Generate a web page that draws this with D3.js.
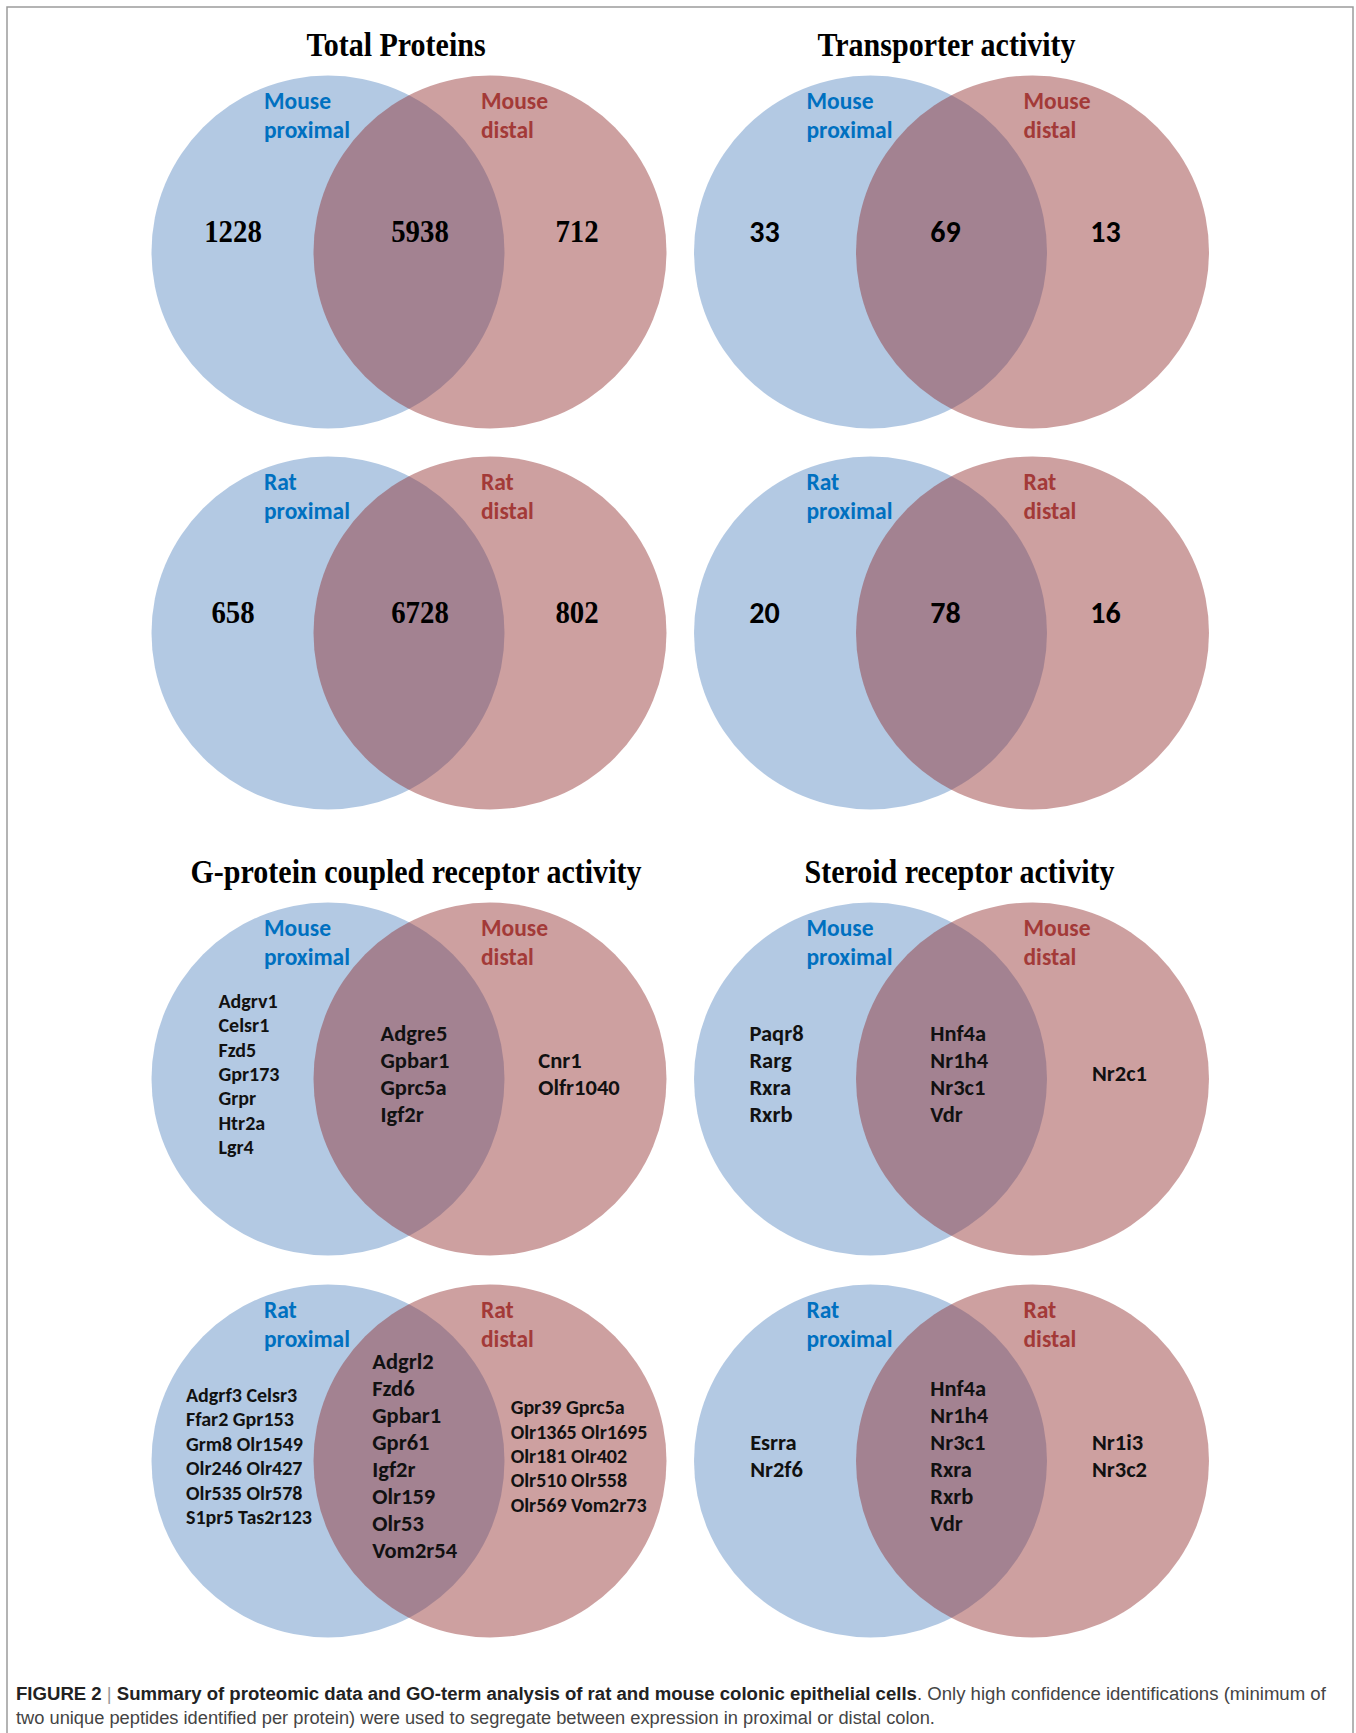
<!DOCTYPE html>
<html>
<head>
<meta charset="utf-8">
<script src="https://cdn.jsdelivr.net/npm/d3@7"></script>
<style>
body { margin: 0; background: #fff; }
svg { display: block; }
</style>
</head>
<body>
<svg id="fig"></svg>
<script>
// titles / set names
var titles = ["Total Proteins", "Transporter activity", "G-protein coupled receptor activity", "Steroid receptor activity"];
var species = ["Mouse", "Rat"];
var sites = ["proximal", "distal"];

// counts: [proximal only, both, distal only]
var totalMouse = [1228, 5938, 712];
var totalRat = [658, 6728, 802];
var transMouse = [33, 69, 13];
var transRat = [20, 78, 16];

// GPCR genes
var gpcrMouseProx = ["Adgrv1", "Celsr1", "Fzd5", "Gpr173", "Grpr", "Htr2a", "Lgr4"];
var gpcrMouseBoth = ["Adgre5", "Gpbar1", "Gprc5a", "Igf2r"];
var gpcrMouseDist = ["Cnr1", "Olfr1040"];
var gpcrRatProx = ["Adgrf3 Celsr3", "Ffar2 Gpr153", "Grm8 Olr1549", "Olr246 Olr427", "Olr535 Olr578", "S1pr5 Tas2r123"];
var gpcrRatBoth = ["Adgrl2", "Fzd6", "Gpbar1", "Gpr61", "Igf2r", "Olr159", "Olr53", "Vom2r54"];
var gpcrRatDist = ["Gpr39 Gprc5a", "Olr1365 Olr1695", "Olr181 Olr402", "Olr510 Olr558", "Olr569 Vom2r73"];

// steroid receptor genes
var sterMouseProx = ["Paqr8", "Rarg", "Rxra", "Rxrb"];
var sterMouseBoth = ["Hnf4a", "Nr1h4", "Nr3c1", "Vdr"];
var sterMouseDist = ["Nr2c1"];
var sterRatProx = ["Esrra", "Nr2f6"];
var sterRatBoth = ["Hnf4a", "Nr1h4", "Nr3c1", "Rxra", "Rxrb", "Vdr"];
var sterRatDist = ["Nr1i3", "Nr3c2"];

var captionLines = [
    [["FIGURE 2", "b"], [" | ", "bar"], ["Summary of proteomic data and GO-term analysis of rat and mouse colonic epithelial cells", "b"], [". Only high confidence identifications (minimum of", "r"]],
    [["two unique peptides identified per protein) were used to segregate between expression in proximal or distal colon.", "r"]]
];

var W = 1356, H = 1733;
var R = 176.5, SEP = 162;

var panels = [
    {col: 0, row: 0, title: titles[0], titleDx: -13, sp: species[0], nums: totalMouse, serif: true},
    {col: 1, row: 0, title: titles[1], titleDx: -5, sp: species[0], nums: transMouse, serif: false},
    {col: 0, row: 1, sp: species[1], nums: totalRat, serif: true},
    {col: 1, row: 1, sp: species[1], nums: transRat, serif: false},
    {col: 0, row: 2, title: titles[2], titleDx: 7, sp: species[0], genes: [gpcrMouseProx, gpcrMouseBoth, gpcrMouseDist]},
    {col: 1, row: 2, title: titles[3], titleDx: 8, sp: species[0], genes: [sterMouseProx, sterMouseBoth, sterMouseDist]},
    {col: 0, row: 3, sp: species[1], genes: [gpcrRatProx, gpcrRatBoth, gpcrRatDist]},
    {col: 1, row: 3, sp: species[1], genes: [sterRatProx, sterRatBoth, sterRatDist]}
];

var colX = d3.scalePoint().domain([0, 1]).range([409, 951.5]);
var rowY = d3.scaleOrdinal().domain([0, 1, 2, 3]).range([252, 633, 1079, 1461]);
// circle centre offsets inside a panel
var setX = d3.scalePoint().domain(sites).range([-SEP / 2, SEP / 2]);
var setFill = d3.scaleOrdinal().domain(sites).range(["#4f81bd", "#902d2d"]);
var setOpacity = d3.scaleOrdinal().domain(sites).range([0.43, 0.45]);
var labelColor = d3.scaleOrdinal().domain(sites).range(["#0070c0", "#a33a38"]);
var labelX = d3.scaleOrdinal().domain(sites).range([-145, 72]);
// region centres (proximal only, both, distal only), per column
var numX = [d3.scaleOrdinal().domain([0, 1, 2]).range([-176, 11, 168]),
            d3.scaleOrdinal().domain([0, 1, 2]).range([-187, -6, 154])];
var geneX = [d3.scaleOrdinal().domain([0, 1, 2]).range([-160, 6, 170]),
             d3.scaleOrdinal().domain([0, 1, 2]).range([-175, 8, 168])];

var SANS = "Carlito, Lato, 'Open Sans', sans-serif";
var SERIF = "'Liberation Serif', 'Times New Roman', serif";

var svg = d3.select("#fig").attr("width", W).attr("height", H);

svg.append("path")
    .attr("d", "M7," + H + " V7 H1353 V" + H)
    .attr("fill", "none")
    .attr("stroke", "#9c9c9c")
    .attr("stroke-width", 1.5);

panels.forEach(function(p) {
    var g = svg.append("g")
        .attr("transform", "translate(" + colX(p.col) + "," + rowY(p.row) + ")");

    g.selectAll("circle")
        .data(sites)
        .enter()
        .append("circle")
        .attr("cx", function(d) { return setX(d); })
        .attr("cy", 0)
        .attr("r", R)
        .attr("fill", function(d) { return setFill(d); })
        .attr("fill-opacity", function(d) { return setOpacity(d); });

    if (p.title) {
        g.append("text")
            .attr("transform", "translate(" + p.titleDx + "," + (-196) + ") scale(0.91,1)")
            .attr("text-anchor", "middle")
            .attr("font-family", SERIF)
            .attr("font-weight", "bold")
            .attr("font-size", "33px")
            .attr("fill", "#000")
            .text(p.title);
    }

    // set labels
    sites.forEach(function(s) {
        var t = g.append("text")
            .attr("font-family", SANS)
            .attr("font-weight", "bold")
            .attr("font-size", "23.5px")
            .attr("fill", labelColor(s));
        t.append("tspan").attr("x", labelX(s)).attr("y", -143).text(p.sp);
        t.append("tspan").attr("x", labelX(s)).attr("y", -114).text(s);
    });

    if (p.nums) {
        g.selectAll("text.num")
            .data(p.nums)
            .enter()
            .append("text")
            .attr("class", "num")
            .attr("transform", function(d, i) {
                return "translate(" + numX[p.col](i) + ",-10)" + (p.serif ? " scale(0.93,1)" : "");
            })
            .attr("text-anchor", "middle")
            .attr("font-family", p.serif ? SERIF : SANS)
            .attr("font-weight", "bold")
            .attr("font-size", p.serif ? "31px" : "30px")
            .attr("fill", "#000")
            .text(function(d) { return d; });
    }

    if (p.genes) {
        p.genes.forEach(function(list, i) {
            var dense = i !== 1 && list.length > 4;
            var lh = dense ? 24.4 : 27;
            var fs = dense ? 20 : 22.5;
            var y0 = 2 - (list.length - 1) * lh / 2;
            var blk = g.append("g");
            blk.selectAll("text")
                .data(list)
                .enter()
                .append("text")
                .attr("x", 0)
                .attr("y", function(d, j) { return y0 + j * lh; })
                .attr("font-family", SANS)
                .attr("font-weight", "bold")
                .attr("font-size", fs + "px")
                .attr("fill", "#111")
                .text(function(d) { return d; });
            var w = blk.node().getBBox().width;
            blk.attr("transform", "translate(" + (geneX[p.col](i) - w / 2) + ",0)");
        });
    }
});

// caption
var capW = [1311, 920];
captionLines.forEach(function(line, i) {
    var t = svg.append("text")
        .attr("x", 0)
        .attr("y", 0)
        .attr("font-family", "'Liberation Sans Narrow', 'Arial Narrow', 'Liberation Sans', Arial, sans-serif")
        .attr("font-size", "19px");
    line.forEach(function(seg) {
        t.append("tspan")
            .attr("font-weight", seg[1] === "b" ? "bold" : "normal")
            .attr("fill", seg[1] === "bar" ? "#999" : (seg[1] === "b" ? "#222" : "#444"))
            .text(seg[0]);
    });
    var w = t.node().getComputedTextLength();
    t.attr("transform", "translate(16," + (1700 + i * 24) + ") scale(" + (capW[i] / w) + ",1)");
});
</script>
</body>
</html>
